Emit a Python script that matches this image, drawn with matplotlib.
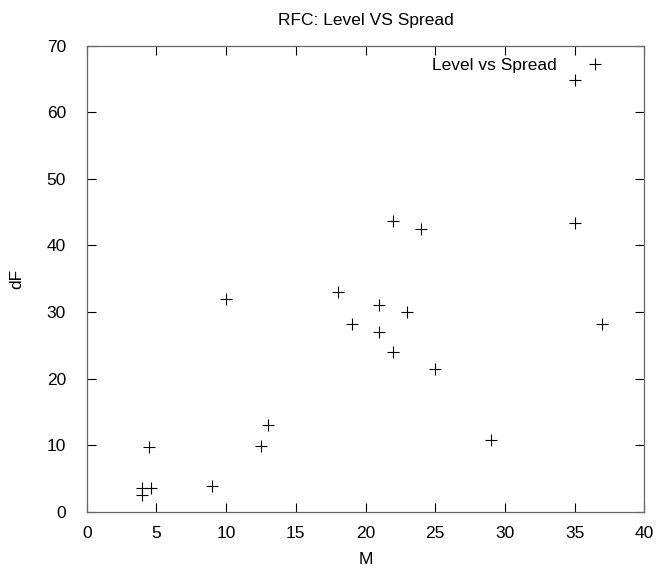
import matplotlib
matplotlib.use('Agg')
import matplotlib.pyplot as plt

# data (M vs dF)
m_vals = [4, 4.6, 4, 4.5, 9, 10, 12.5, 13, 18, 19, 21, 21, 22, 22, 23, 24, 25, 29, 35, 35, 37]
df_vals = [2.5, 3.5, 3.5, 9.7, 3.8, 32, 9.8, 13, 33, 28.2, 31, 27, 24, 43.6, 30, 42.5, 21.5, 10.7, 64.9, 43.4, 28.2]

x_ticks = [0, 5, 10, 15, 20, 25, 30, 35, 40]
y_ticks = [0, 10, 20, 30, 40, 50, 60, 70]

plt.rcParams['font.family'] = ['Liberation Sans', 'DejaVu Sans']
plt.rcParams['font.size'] = 12.5

fig = plt.figure(figsize=(6.58, 5.69), dpi=100)
ax = fig.add_axes([0.1318, 0.1007, 0.9792 - 0.1318, 0.9197 - 0.1007])

ax.plot(m_vals, df_vals, linestyle='none', marker='+', markersize=8.5,
        markeredgewidth=0.8, color='black', label='Level vs Spread')

ax.set_xlim(0, 40)
ax.set_ylim(0, 70)
ax.set_xticks(x_ticks)
ax.set_yticks(y_ticks)
ax.tick_params(axis='x', direction='in', length=6.5, width=0.8, top=True,
               pad=10, colors='black')
ax.tick_params(axis='y', direction='in', length=6.5, width=0.8, right=True,
               pad=15, colors='black')
for s in ax.spines.values():
    s.set_color('#666666')
    s.set_linewidth(0.9)

ax.set_title('RFC: Level VS Spread', fontsize=12.5, pad=15)
ax.set_xlabel('M', labelpad=8)
ax.set_ylabel('dF', labelpad=16)

ax.legend(loc='upper right', bbox_to_anchor=(0.955, 1.004), frameon=False,
          markerfirst=False, handlelength=1.2, handletextpad=1.58,
          borderaxespad=0.4, fontsize=12.5)

fig.savefig('out.png', dpi=100)
